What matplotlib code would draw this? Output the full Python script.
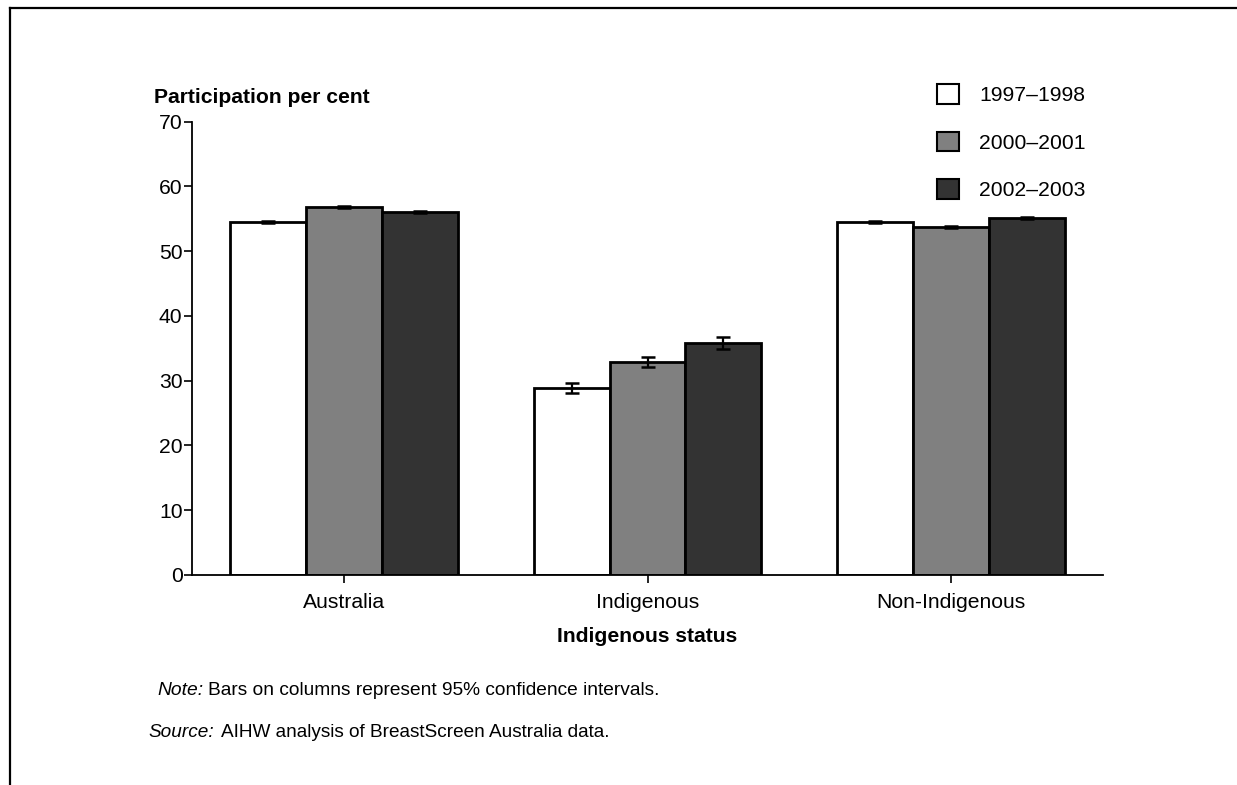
import matplotlib
matplotlib.use("Agg")
import matplotlib.pyplot as plt
from matplotlib.lines import Line2D
from matplotlib.patches import Patch
import numpy as np

categories = ["Australia", "Indigenous", "Non-Indigenous"]
series_labels = ["1997\u20131998", "2000\u20132001", "2002\u20132003"]
values_1997 = [54.5, 28.9, 54.5]
values_2000 = [56.8, 32.9, 53.7]
values_2002 = [56.0, 35.8, 55.1]
err_1997 = [0.15, 0.8, 0.15]
err_2000 = [0.15, 0.8, 0.15]
err_2002 = [0.15, 0.9, 0.15]
yticks = [0, 10, 20, 30, 40, 50, 60, 70]

colors = ["#ffffff", "#808080", "#333333"]

plt.rcParams["font.family"] = ["Liberation Sans", "DejaVu Sans"]
FS = 15.2

W, H = 1237, 785
fig = plt.figure(figsize=(W / 100, H / 100), dpi=100)
ax = fig.add_axes([192/W, 1 - 575/H, (1103-192)/W, (575-121.5)/H])

x = np.arange(len(categories))
w = 0.25
series = [values_1997, values_2000, values_2002]
errs = [err_1997, err_2000, err_2002]
handles = []
for i, (vals, e) in enumerate(zip(series, errs)):
    pos = x + (i - 1) * w
    ax.bar(pos, vals, width=w, color=colors[i], edgecolor="black", linewidth=2, zorder=2)
    ax.errorbar(pos, vals, yerr=e, fmt="none", ecolor="black", elinewidth=1.6,
                capsize=5, capthick=1.8, zorder=3)
    handles.append(Patch(facecolor=colors[i], edgecolor="black", linewidth=1.5))

ax.set_xlim(-0.5, 2.5)
ax.set_ylim(0, 70)
ax.set_yticks(yticks)
ax.set_xticks(x)
ax.set_xticklabels(categories)
ax.tick_params(axis="both", labelsize=FS, direction="out", length=5.8, width=1.2)
ax.tick_params(axis="y", pad=1)
ax.tick_params(axis="x", pad=7)
for s in ["top", "right"]:
    ax.spines[s].set_visible(False)
ax.spines["left"].set_linewidth(1.3)
ax.spines["bottom"].set_linewidth(1.3)

ax.set_xlabel("Indigenous status", fontsize=FS, fontweight="bold", labelpad=11)
fig.text(154/W, 1 - 103/H, "Participation per cent", fontsize=FS, fontweight="bold",
         ha="left", va="baseline")

leg = fig.legend(handles, series_labels, loc="upper left",
                 bbox_to_anchor=(937/W, 1 - 84/H), frameon=False, fontsize=FS,
                 handlelength=1.05, handleheight=1.05, labelspacing=1.26,
                 handletextpad=0.95, borderpad=0, borderaxespad=0)

NS = 13.9
fig.text(157/W, 1 - 695/H, "Note:", fontsize=NS, style="italic", ha="left", va="baseline")
fig.text(208/W, 1 - 695/H, "Bars on columns represent 95% confidence intervals.",
         fontsize=NS - 0.1, ha="left", va="baseline")
fig.text(148/W, 1 - 737/H, "Source:", fontsize=NS - 0.2, style="italic", ha="left", va="baseline")
fig.text(221/W, 1 - 737/H, "AIHW analysis of BreastScreen Australia data.",
         fontsize=NS - 0.2, ha="left", va="baseline")

# frame lines
fig.add_artist(Line2D([10/W, 1.0], [1 - 8/H, 1 - 8/H], color="black", linewidth=1.6))
fig.add_artist(Line2D([10/W, 10/W], [1 - 8/H, 0.0], color="black", linewidth=1.6))

fig.savefig("out.png", dpi=100)
